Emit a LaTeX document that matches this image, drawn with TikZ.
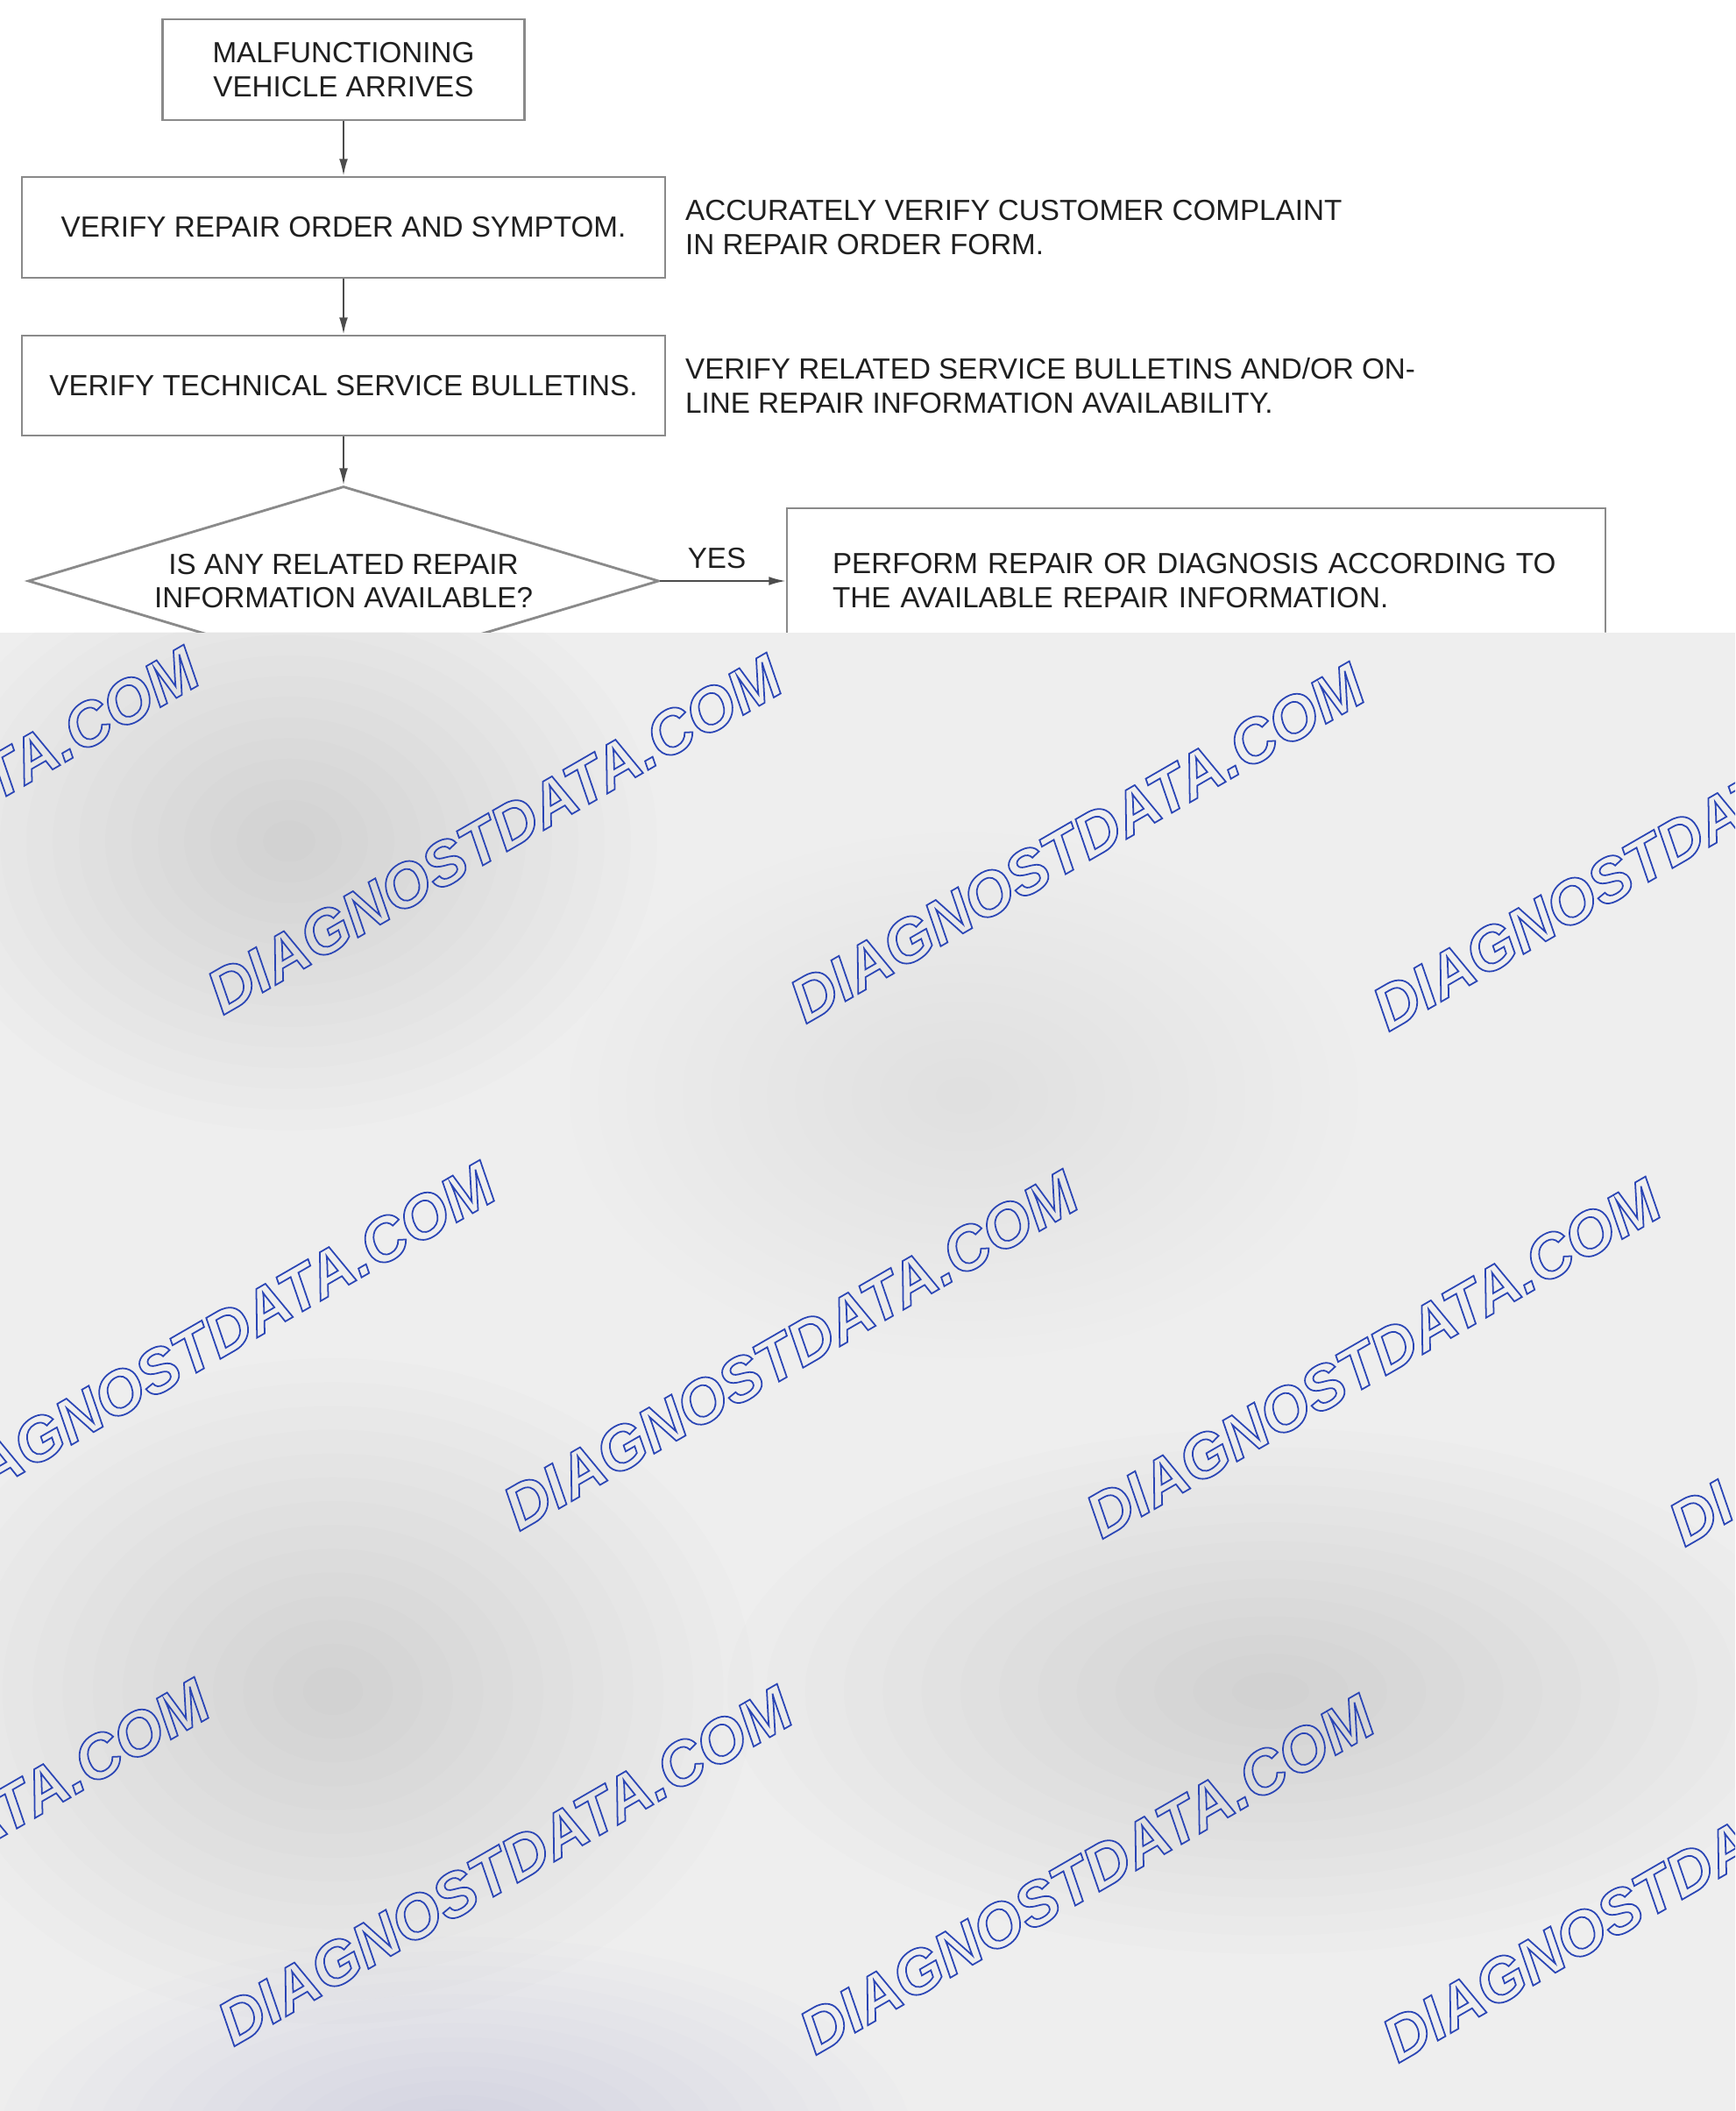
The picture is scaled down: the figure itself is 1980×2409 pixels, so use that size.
\documentclass[tikz,border=0pt]{standalone}
\usepackage{fontspec}
\setmainfont{Liberation Sans}
\usetikzlibrary{shapes.geometric,arrows.meta,positioning}
\definecolor{boxline}{HTML}{8A8A8A}
\definecolor{ink}{HTML}{1F1F1F}
\definecolor{fog}{HTML}{EEEEEE}
\definecolor{wmblue}{HTML}{2A45B5}
\definecolor{haze}{HTML}{6A78C8}
% outlined letters for the watermark
\newcommand{\outlined}[1]{\special{pdf:literal direct 0.165 0.271 0.710 RG 1 Tr 0.5 w}#1\special{pdf:literal direct 0 Tr}}
% soft blot: x, y, x radius, y radius, colour, opacity of one ring
\newcommand{\smudge}[6]{\foreach \k in {1,...,14}{\fill[#5, fill opacity=#6] (#1,#2) ellipse ({#3*\k/14} and {#4*\k/14});}}
\begin{document}
\begin{tikzpicture}[x=0.1mm,y=-0.1mm]
                \tikzstyle{every node}+=[font=\fontsize{9.45pt}{10.9pt}\selectfont, text=ink]
                \tikzstyle{box}=[draw=boxline, line width=0.8pt, rectangle, inner sep=0pt, align=center]
                \tikzstyle{note}=[inner sep=0pt, align=left, anchor=west]
                \tikzstyle{flow}=[draw=black!70, line width=0.55pt, -{Latex[length=5.5pt,width=2.8pt]}]
                \tikzstyle{wm}=[inner sep=0pt, rotate=30, text=wmblue, font=\fontsize{20.1pt}{20.1pt}\selectfont\bfseries\itshape]
                \useasboundingbox (0,0) rectangle (1980,2409);
                \fill[white] (0,0) rectangle (1980,2409);
                \node[box, minimum width=41.3mm, minimum height=11.5mm] (arrive) at (392,79.5) {MALFUNCTIONING\\VEHICLE ARRIVES};
                \node[box, minimum width=73.4mm, minimum height=11.5mm] (order) at (392,259.5) {VERIFY REPAIR ORDER AND SYMPTOM.};
                \node[box, minimum width=73.4mm, minimum height=11.4mm] (tsb) at (392,440) {VERIFY TECHNICAL SERVICE BULLETINS.};
                \node[draw=boxline, line width=0.8pt, diamond, aspect=3.33, inner sep=0pt, minimum width=72mm, minimum height=21.6mm, align=center] (info) at (392,663) {IS ANY RELATED REPAIR\\INFORMATION AVAILABLE?};
                \node[box, align=left, text width=83mm, inner xsep=5.2mm, minimum height=16.5mm] (perform) at (1365,662.5) {PERFORM REPAIR OR DIAGNOSIS ACCORDING TO\\THE AVAILABLE REPAIR INFORMATION.};
                \node[note, right=2.1mm of order] (complaint) {ACCURATELY VERIFY CUSTOMER COMPLAINT\\IN REPAIR ORDER FORM.};
                \node[note, right=2.1mm of tsb] (bulletin) {VERIFY RELATED SERVICE BULLETINS AND/OR ON-\\LINE REPAIR INFORMATION AVAILABILITY.};
                \draw[flow] (arrive) -- (order);
                \draw[flow] (order) -- (tsb);
                \draw[flow] (tsb) -- (info);
                \draw[flow] (info.east) -- node[above=1.3mm, xshift=-0.7mm, inner sep=0pt] (yes) {YES} (info.east -| perform.west);
                % blurred lower part
                \begin{scope}
                \clip (0,722) rectangle (1980,2409);
                \fill[fog] (0,722) rectangle (1980,2409);
                \smudge{330}{960}{420}{330}{black}{0.006}
                \smudge{1100}{1250}{450}{300}{black}{0.004}
                \smudge{1900}{830}{450}{380}{white}{0.03}
                \smudge{60}{1640}{240}{280}{white}{0.03}
                \smudge{380}{1930}{480}{380}{black}{0.007}
                \smudge{1450}{1930}{620}{300}{black}{0.008}
                \smudge{520}{2440}{520}{230}{haze}{0.012}
                \smudge{1850}{2330}{380}{280}{white}{0.03}
                \smudge{880}{2240}{220}{130}{white}{0.03}
                \node[wm] (wma) at (-101,943) {\outlined{DIAGNOSTDATA.COM}};
                \node[wm] (wmb) at (564,952) {\outlined{DIAGNOSTDATA.COM}};
                \node[wm] (wmc) at (1229,962) {\outlined{DIAGNOSTDATA.COM}};
                \node[wm] (wmd) at (1894,971) {\outlined{DIAGNOSTDATA.COM}};
                \node[wm] (wme) at (237,1531) {\outlined{DIAGNOSTDATA.COM}};
                \node[wm] (wmf) at (902,1541) {\outlined{DIAGNOSTDATA.COM}};
                \node[wm] (wmg) at (1567,1550) {\outlined{DIAGNOSTDATA.COM}};
                \node[wm] (wmh) at (2232,1559) {\outlined{DIAGNOSTDATA.COM}};
                \node[wm] (wmi) at (-89,2121) {\outlined{DIAGNOSTDATA.COM}};
                \node[wm] (wmj) at (576,2129) {\outlined{DIAGNOSTDATA.COM}};
                \node[wm] (wmk) at (1240,2139) {\outlined{DIAGNOSTDATA.COM}};
                \node[wm] (wml) at (1905,2148) {\outlined{DIAGNOSTDATA.COM}};
                \end{scope}
\end{tikzpicture}
\end{document}
